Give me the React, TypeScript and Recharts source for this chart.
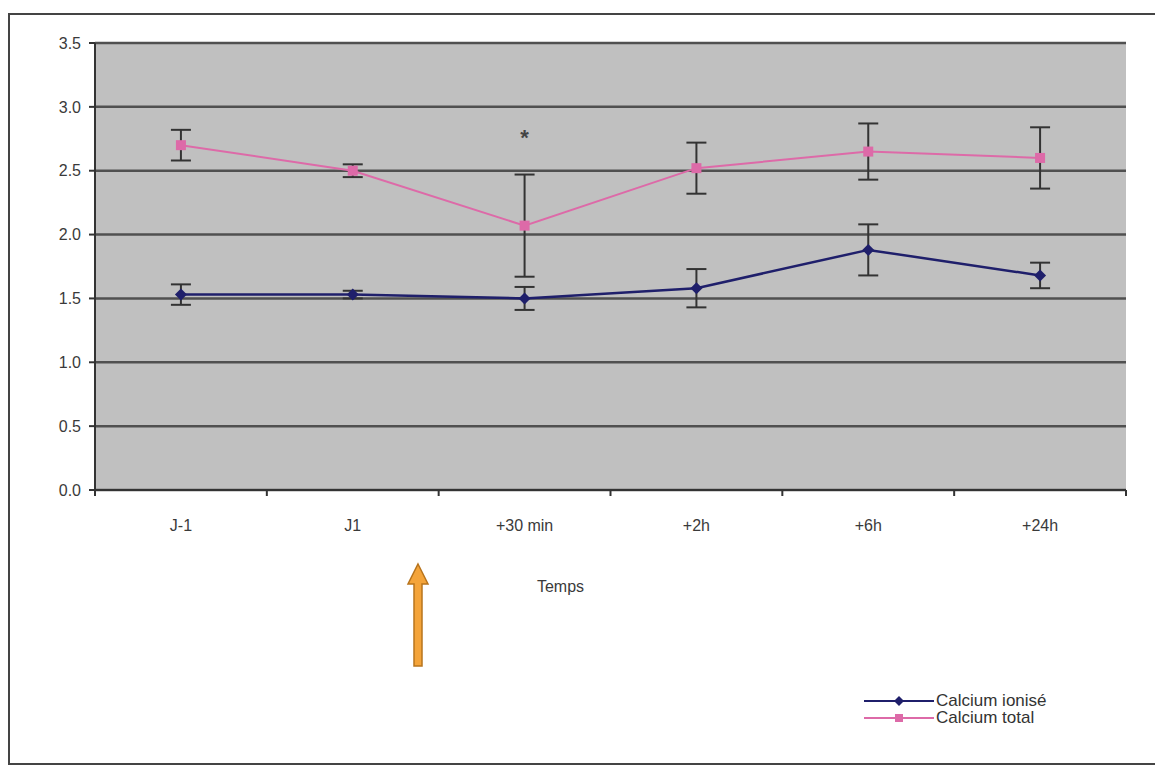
import React from "react";
import {
  LineChart,
  Line,
  XAxis,
  YAxis,
  CartesianGrid,
  ErrorBar,
  ReferenceDot,
} from "recharts";

// valeurs
const CATEGORIES = ["J-1", "J1", "+30 min", "+2h", "+6h", "+24h"];
const CA_IONISE = [1.53, 1.53, 1.5, 1.58, 1.88, 1.68];
const CA_IONISE_ERR = [0.08, 0.03, 0.09, 0.15, 0.2, 0.1];
const CA_TOTAL = [2.7, 2.5, 2.07, 2.52, 2.65, 2.6];
const CA_TOTAL_ERR = [0.12, 0.05, 0.4, 0.2, 0.22, 0.24];
const Y_TICKS = [0, 0.5, 1, 1.5, 2, 2.5, 3, 3.5];
const SIGNIF_CAT = "+30 min";
const SIGNIF_Y = 2.76;

const NAVY = "#1f1f6b";
const PINK = "#dd6aa8";
const FONT = "'Liberation Sans', Arial, sans-serif";

const data = CATEGORIES.map((c, i) => ({
  name: c,
  ionise: CA_IONISE[i],
  ioniseErr: CA_IONISE_ERR[i],
  total: CA_TOTAL[i],
  totalErr: CA_TOTAL_ERR[i],
}));

const Diamond = (props: any) => {
  const { cx, cy } = props;
  if (cx == null || cy == null) return null;
  return (
    <path
      d={`M${cx},${cy - 6} L${cx + 6},${cy} L${cx},${cy + 6} L${cx - 6},${cy} Z`}
      fill={NAVY}
    />
  );
};

const Square = (props: any) => {
  const { cx, cy } = props;
  if (cx == null || cy == null) return null;
  return <rect x={cx - 5} y={cy - 5} width={10} height={10} fill={PINK} />;
};

// étiquette + graduations entre catégories (style Excel)
const CategoryTick = (props: any) => {
  const { x, y, payload, index, visibleTicksCount } = props;
  const half = payload?.offset ?? 0;
  const axisY = y - 30;
  const isLast = index === (visibleTicksCount ?? CATEGORIES.length) - 1;
  return (
    <g>
      <line x1={x - half} y1={axisY} x2={x - half} y2={axisY + 6} stroke="#333" strokeWidth={2} />
      {isLast && (
        <line x1={x + half} y1={axisY} x2={x + half} y2={axisY + 6} stroke="#333" strokeWidth={2} />
      )}
      <text
        x={x}
        y={y}
        dy="0.71em"
        textAnchor="middle"
        fill="#3a3a3a"
        fontSize={16}
        fontFamily={FONT}
      >
        {payload.value}
      </text>
    </g>
  );
};

const LegendBox = () => (
  <div
    style={{
      position: "absolute",
      left: 864,
      top: 692,
      fontFamily: FONT,
      fontSize: 17,
      color: "#333",
      lineHeight: "17px",
    }}
  >
    {[
      { label: "Calcium ionisé", color: NAVY, shape: "diamond" },
      { label: "Calcium total", color: PINK, shape: "square" },
    ].map((it) => (
      <div key={it.label} style={{ display: "flex", alignItems: "center", whiteSpace: "nowrap" }}>
        <svg width={72} height={17}>
          <line x1={0} y1={9} x2={70} y2={9} stroke={it.color} strokeWidth={2} />
          {it.shape === "diamond" ? (
            <path d="M35,4 L40,9 L35,14 L30,9 Z" fill={it.color} />
          ) : (
            <rect x={31} y={5} width={8} height={8} fill={it.color} />
          )}
        </svg>
        <span>{it.label}</span>
      </div>
    ))}
  </div>
);

export default function App() {
  return (
    <div
      style={{
        position: "absolute",
        left: 0,
        top: 0,
        width: 1155,
        height: 768,
        overflow: "hidden",
        background: "#fff",
      }}
    >
      <div
        style={{
          position: "absolute",
          left: 8,
          top: 13,
          width: 1170,
          height: 752,
          border: "2px solid #444",
          boxSizing: "border-box",
        }}
      />
      <LineChart
        width={1155}
        height={768}
        data={data}
        margin={{ top: 43, right: 29, left: 0, bottom: 248 }}
        style={{ position: "absolute", left: 0, top: 0 }}
      >
        <CartesianGrid
          vertical={false}
          fill="#c0c0c0"
          stroke="#505050"
          strokeWidth={2.5}
          horizontalValues={Y_TICKS}
        />
        <XAxis
          dataKey="name"
          scale="band"
          height={30}
          axisLine={{ stroke: "#333", strokeWidth: 2 }}
          tickLine={false}
          tickSize={0}
          tickMargin={30}
          tick={<CategoryTick />}
          interval={0}
          label={{
            value: "Temps",
            position: "bottom",
            offset: 61,
            dx: -50,
            fill: "#3a3a3a",
            fontSize: 16,
            fontFamily: FONT,
          }}
        />
        <YAxis
          width={95}
          domain={[0, 3.5]}
          ticks={Y_TICKS}
          tickFormatter={(v: number) => v.toFixed(1)}
          axisLine={{ stroke: "#333", strokeWidth: 2 }}
          tickLine={{ stroke: "#333", strokeWidth: 2 }}
          tickSize={6}
          tickMargin={8}
          tick={{ fill: "#3a3a3a", fontSize: 16, fontFamily: FONT }}
        />
        <Line
          dataKey="ionise"
          name="Calcium ionisé"
          stroke={NAVY}
          strokeWidth={2.5}
          dot={<Diamond />}
          activeDot={false}
          isAnimationActive={false}
        >
          <ErrorBar dataKey="ioniseErr" width={10} stroke="#333" strokeWidth={2} isAnimationActive={false} />
        </Line>
        <Line
          dataKey="total"
          name="Calcium total"
          stroke={PINK}
          strokeWidth={2}
          dot={<Square />}
          activeDot={false}
          isAnimationActive={false}
        >
          <ErrorBar dataKey="totalErr" width={10} stroke="#333" strokeWidth={2} isAnimationActive={false} />
        </Line>
        <ReferenceDot
          x={SIGNIF_CAT}
          y={SIGNIF_Y}
          r={0}
          shape={(p: any) => (
            <text
              x={p.cx}
              y={p.cy}
              textAnchor="middle"
              dominantBaseline="central"
              fontSize={22}
              fontWeight="bold"
              fill="#444"
              fontFamily={FONT}
            >
              *
            </text>
          )}
        />
      </LineChart>
      <LegendBox />
      <svg
        width={40}
        height={120}
        style={{ position: "absolute", left: 399, top: 558 }}
      >
        <path
          d="M19,6 L29,26 L23,26 L23,108 L15,108 L15,26 L9,26 Z"
          fill="#f4a43a"
          stroke="#b8741c"
          strokeWidth={1.5}
        />
      </svg>
    </div>
  );
}
